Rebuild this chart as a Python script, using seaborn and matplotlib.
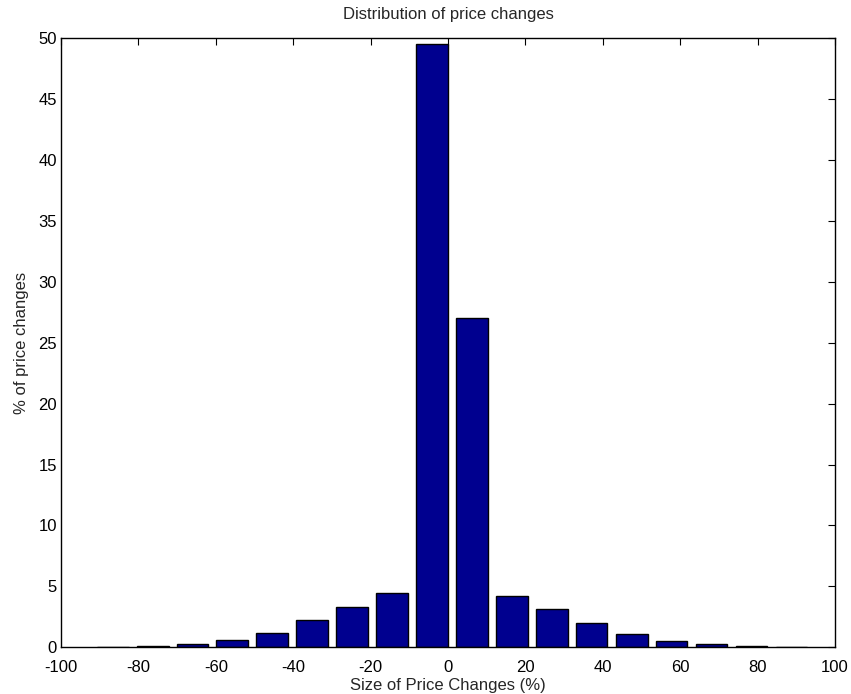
import numpy as np
import pandas as pd
import matplotlib
matplotlib.use("Agg")
import matplotlib.pyplot as plt
import seaborn as sns

# bin centres (%) and share of price changes (%)
bin_centres = [-86.6, -76.3, -66.0, -55.8, -45.5, -35.2, -24.8, -14.5, -4.2,
               6.2, 16.5, 26.8, 37.1, 47.5, 57.8, 68.1, 78.4, 88.8]
pct_changes = [0.05, 0.1, 0.27, 0.6, 1.2, 2.24, 3.33, 4.43, 49.5,
               27.05, 4.21, 3.14, 2.02, 1.09, 0.52, 0.27, 0.08, 0.04]

x_ticks = [-100, -80, -60, -40, -20, 0, 20, 40, 60, 80, 100]
y_ticks = [0, 5, 10, 15, 20, 25, 30, 35, 40, 45, 50]

df = pd.DataFrame({"centre": bin_centres, "pct": pct_changes})

sns.set_style("white")
plt.rcParams["font.family"] = ["Liberation Sans", "DejaVu Sans"]
plt.rcParams["axes.unicode_minus"] = False

fig = plt.figure(figsize=(8.51, 6.94), dpi=100)
ax = fig.add_axes([0.0717, 0.0673, 0.9095, 0.8777])

sns.barplot(data=df, x="centre", y="pct", native_scale=True, width=0.8,
            color="#00008F", saturation=1, edgecolor="black", linewidth=1,
            ax=ax)

ax.set_xlim(-100, 100)
ax.set_ylim(0, 50)
ax.set_xticks(x_ticks)
ax.set_yticks(y_ticks)
ax.tick_params(direction="in", length=5, width=0.8, top=True, right=True,
               labelsize=12, colors="black")
ax.tick_params(axis="x", pad=9)
ax.tick_params(axis="y", pad=3)
for s in ax.spines.values():
    s.set_visible(True)
    s.set_color("black")
    s.set_linewidth(1)

ax.set_title("Distribution of price changes", fontsize=12, pad=14)
ax.set_xlabel("Size of Price Changes (%)", fontsize=12, labelpad=2)
ax.set_ylabel("% of price changes", fontsize=12, labelpad=7)

fig.savefig("out.png", dpi=100)
